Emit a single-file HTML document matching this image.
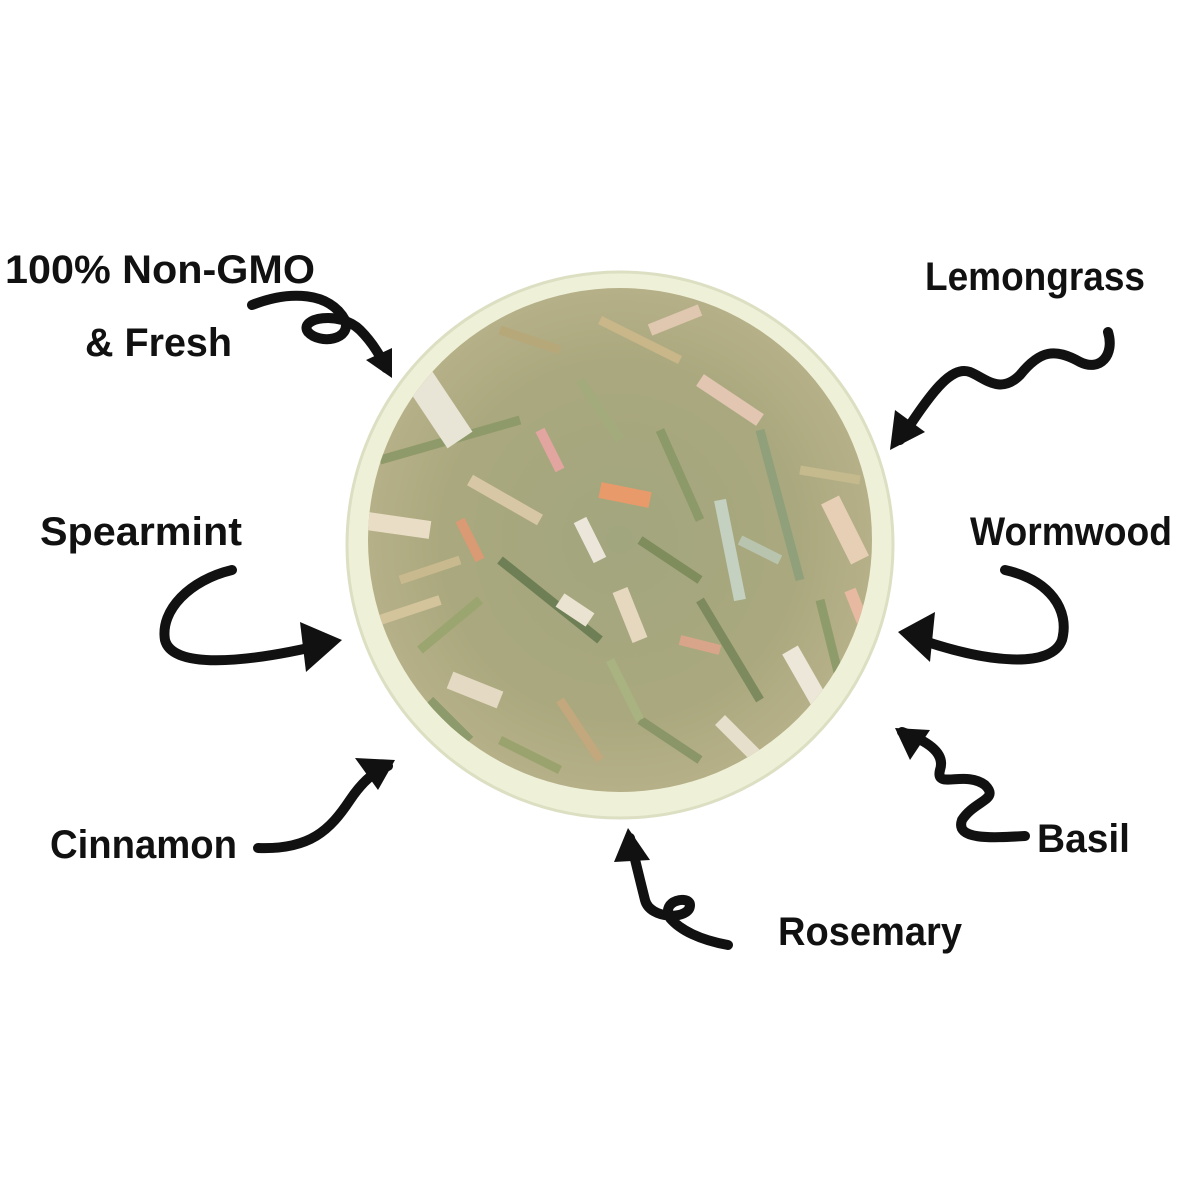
<!DOCTYPE html>
<html><head><meta charset="utf-8"><style>
html,body{margin:0;padding:0;background:#fff;}
svg{display:block}
text{font-family:"Liberation Sans",sans-serif;font-weight:bold;font-size:40px;fill:#111;}
</style></head><body>
<svg width="1200" height="1200" viewBox="0 0 1200 1200" xmlns="http://www.w3.org/2000/svg">
<defs>
<radialGradient id="herb" cx="50%" cy="50%" r="50%">
<stop offset="0" stop-color="#a2a67e"/>
<stop offset="0.7" stop-color="#aaa87e"/>
<stop offset="1" stop-color="#b6b088"/>
</radialGradient>
<clipPath id="cl"><circle cx="620" cy="540" r="252"/></clipPath>
</defs>
<circle cx="620" cy="545" r="273" fill="#eef0d8"/>
<circle cx="620" cy="545" r="273" fill="none" stroke="#dcdfc2" stroke-width="3"/>
<circle cx="620" cy="540" r="252" fill="url(#herb)"/>
<g clip-path="url(#cl)" stroke-width="9" stroke-linecap="butt">
<line x1="380" y1="460" x2="520" y2="420" stroke="#8f9a6a"/>
<line x1="420" y1="380" x2="460" y2="440" stroke="#e8e4d6" stroke-width="30"/>
<line x1="600" y1="320" x2="680" y2="360" stroke="#c9b78a"/>
<line x1="700" y1="380" x2="760" y2="420" stroke="#e2c6b2" stroke-width="14"/>
<line x1="760" y1="430" x2="800" y2="580" stroke="#8fa07a"/>
<line x1="830" y1="500" x2="860" y2="560" stroke="#e7cfb5" stroke-width="20"/>
<line x1="360" y1="520" x2="430" y2="530" stroke="#e9ddc6" stroke-width="18"/>
<line x1="600" y1="490" x2="650" y2="500" stroke="#e89a6a" stroke-width="16"/>
<line x1="500" y1="560" x2="600" y2="640" stroke="#6f7f55"/>
<line x1="620" y1="590" x2="640" y2="640" stroke="#e6d8bf" stroke-width="16"/>
<line x1="700" y1="600" x2="760" y2="700" stroke="#7d8a5e"/>
<line x1="790" y1="650" x2="830" y2="720" stroke="#ece7d8" stroke-width="18"/>
<line x1="450" y1="680" x2="500" y2="700" stroke="#e4d9c2" stroke-width="18"/>
<line x1="560" y1="700" x2="600" y2="760" stroke="#c2a87c"/>
<line x1="480" y1="600" x2="420" y2="650" stroke="#9aa56f"/>
<line x1="660" y1="430" x2="700" y2="520" stroke="#8c9968"/>
<line x1="540" y1="430" x2="560" y2="470" stroke="#e3a5a0" stroke-width="10"/>
<line x1="720" y1="500" x2="740" y2="600" stroke="#c4d0c0" stroke-width="12"/>
<line x1="580" y1="380" x2="620" y2="440" stroke="#a3ab7c"/>
<line x1="850" y1="590" x2="870" y2="640" stroke="#e6b9a0" stroke-width="12"/>
<line x1="400" y1="580" x2="460" y2="560" stroke="#c9b98e"/>
<line x1="640" y1="720" x2="700" y2="760" stroke="#8a9668"/>
<line x1="470" y1="480" x2="540" y2="520" stroke="#d8c7a4" stroke-width="12"/>
<line x1="500" y1="330" x2="560" y2="350" stroke="#b7a87a"/>
<line x1="640" y1="540" x2="700" y2="580" stroke="#7f8c5c"/>
<line x1="560" y1="600" x2="590" y2="620" stroke="#ebe3d2" stroke-width="16"/>
<line x1="680" y1="640" x2="720" y2="650" stroke="#d9a58a" stroke-width="10"/>
<line x1="380" y1="620" x2="440" y2="600" stroke="#d4c49c" stroke-width="10"/>
<line x1="800" y1="470" x2="860" y2="480" stroke="#c5b98e"/>
<line x1="500" y1="740" x2="560" y2="770" stroke="#9aa36e"/>
<line x1="650" y1="330" x2="700" y2="310" stroke="#e0c7b0" stroke-width="12"/>
<line x1="430" y1="700" x2="470" y2="740" stroke="#8c9a6c"/>
<line x1="720" y1="720" x2="760" y2="760" stroke="#e6dfcc" stroke-width="14"/>
<line x1="580" y1="520" x2="600" y2="560" stroke="#ebe6d9" stroke-width="14"/>
<line x1="460" y1="520" x2="480" y2="560" stroke="#d99a74" stroke-width="10"/>
<line x1="740" y1="540" x2="780" y2="560" stroke="#b8c4ad" stroke-width="10"/>
<line x1="820" y1="600" x2="840" y2="680" stroke="#8e9b6a"/>
<line x1="610" y1="660" x2="640" y2="720" stroke="#a9b381"/>
</g>
<g fill="none" stroke="#111" stroke-width="10" stroke-linecap="round" stroke-linejoin="round">
<path d="M252 305 C290 290,330 292,345 320 C352 340,320 345,308 332 C298 318,340 310,360 330 C375 345,382 360,386 368"/>
<path d="M1108 332 C1115 355,1100 372,1080 362 C1055 348,1040 350,1020 375 C1000 395,985 378,970 372 C950 365,930 395,900 440"/>
<path d="M232 570 C190 580,160 610,165 640 C172 668,240 665,330 643"/>
<path d="M1005 570 C1050 580,1070 610,1062 640 C1052 668,990 665,910 636"/>
<path d="M258 848 C310 850,330 830,350 800 C360 785,372 772,388 766"/>
<path d="M1025 836 C990 838,955 840,962 820 C975 800,1000 800,985 785 C965 770,935 790,940 770 C946 752,925 740,902 732"/>
<path d="M728 945 C700 940,680 930,670 918 C660 900,690 895,690 905 C690 920,650 920,645 900 C640 880,635 860,630 838"/>
</g>
<g fill="#111">
<polygon points="392,378 366,360 392,348"/>
<polygon points="890,450 895,410 925,432"/>
<polygon points="342,640 300,622 306,672"/>
<polygon points="898,632 935,612 930,662"/>
<polygon points="395,760 355,758 378,790"/>
<polygon points="895,728 930,730 910,760"/>
<polygon points="628,828 614,862 650,860"/>
</g>
<text x="5" y="283" textLength="310" lengthAdjust="spacingAndGlyphs">100% Non-GMO</text>
<text x="85" y="356" textLength="147" lengthAdjust="spacingAndGlyphs">&amp; Fresh</text>
<text x="925" y="290" textLength="220" lengthAdjust="spacingAndGlyphs">Lemongrass</text>
<text x="40" y="545" textLength="202" lengthAdjust="spacingAndGlyphs">Spearmint</text>
<text x="970" y="545" textLength="202" lengthAdjust="spacingAndGlyphs">Wormwood</text>
<text x="50" y="858" textLength="187" lengthAdjust="spacingAndGlyphs">Cinnamon</text>
<text x="1037" y="852" textLength="93" lengthAdjust="spacingAndGlyphs">Basil</text>
<text x="778" y="945" textLength="184" lengthAdjust="spacingAndGlyphs">Rosemary</text>
</svg>
</body></html>
